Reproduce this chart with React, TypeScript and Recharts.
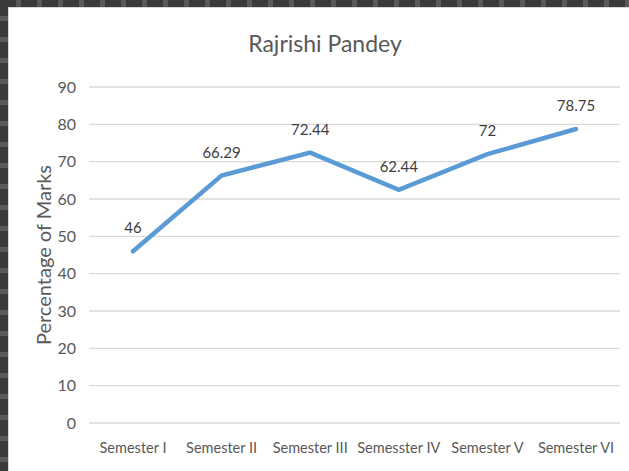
import React from 'react';
import {
  LineChart,
  Line,
  XAxis,
  YAxis,
  CartesianGrid,
  LabelList,
} from 'recharts';

const semesters = [
  'Semester I',
  'Semester II',
  'Semester III',
  'Semesster IV',
  'Semester V',
  'Semester VI',
];
const marks = [46, 66.29, 72.44, 62.44, 72, 78.75];
const yTicks = [0, 10, 20, 30, 40, 50, 60, 70, 80, 90];
const boundaryTicks = [0, 1, 2, 3, 4, 5, 6];

const data = semesters.map((name, i) => ({ name, marks: marks[i] }));

const FONT = 'Lato, "Open Sans", sans-serif';
const TEXT = '#595959';
const GRID = '#d9d9d9';

export default function App() {
  return (
    <div
      style={{
        position: 'absolute',
        left: 0,
        top: 0,
        width: 629,
        height: 471,
        background: '#fff',
        fontFamily: FONT,
        overflow: 'hidden',
      }}
    >
      {/* dashed selection frame, top and left */}
      <div
        style={{
          position: 'absolute',
          left: 0,
          top: 0,
          width: 629,
          height: 7,
          background:
            'repeating-linear-gradient(90deg, #3a3a3a 0px, #3a3a3a 16px, #595959 16px, #595959 21px)',
        }}
      />
      <div
        style={{
          position: 'absolute',
          left: 0,
          top: 0,
          width: 8,
          height: 471,
          background:
            'repeating-linear-gradient(180deg, #3a3a3a 0px, #3a3a3a 16px, #595959 16px, #595959 21px)',
        }}
      />
      <div
        style={{
          position: 'absolute',
          left: 8,
          top: 7,
          width: 621,
          height: 464,
          borderLeft: `1px solid ${GRID}`,
          borderTop: `1px solid ${GRID}`,
        }}
      />
      <div
        style={{
          position: 'absolute',
          left: 0,
          top: 29,
          width: 650,
          textAlign: 'center',
          fontSize: 23,
          color: TEXT,
        }}
      >
        Rajrishi Pandey
      </div>
      <div style={{ position: 'absolute', left: 0, top: 0 }}>
        <LineChart
          width={629}
          height={471}
          data={data}
          margin={{ top: 87, right: 9, bottom: 18, left: 0 }}
        >
          <CartesianGrid horizontal vertical={false} stroke={GRID} strokeWidth={1.3} />
          <XAxis
            xAxisId="bounds"
            type="number"
            domain={[0, 6]}
            ticks={boundaryTicks}
            height={0}
            tick={false}
            tickSize={6}
            axisLine={{ stroke: '#cfcfcf', strokeWidth: 1.3 }}
            tickLine={{ stroke: '#cfcfcf', strokeWidth: 1.3 }}
          />
          <XAxis
            dataKey="name"
            height={30}
            padding={{ left: 44, right: 44 }}
            axisLine={false}
            tickLine={false}
            tickSize={0}
            tickMargin={20}
            interval={0}
            tick={{ fill: TEXT, fontSize: 14.5, fontFamily: FONT }}
          />
          <YAxis
            domain={[0, 90]}
            ticks={yTicks}
            width={89}
            axisLine={false}
            tickLine={false}
            tickSize={0}
            tickMargin={13}
            tick={{ fill: TEXT, fontSize: 16, fontFamily: FONT }}
            label={{
              value: 'Percentage of Marks',
              angle: -90,
              position: 'center',
              dx: -1,
              fill: TEXT,
              fontSize: 20,
              fontFamily: FONT,
            }}
          />
          <Line
            type="linear"
            dataKey="marks"
            stroke="#5b9bd5"
            strokeWidth={4.5}
            dot={false}
            activeDot={false}
            strokeLinecap="round"
            isAnimationActive={false}
          >
            <LabelList
              dataKey="marks"
              position="top"
              offset={18}
              fill="#404040"
              fontSize={15}
              fontFamily={FONT}
            />
          </Line>
        </LineChart>
      </div>
    </div>
  );
}
